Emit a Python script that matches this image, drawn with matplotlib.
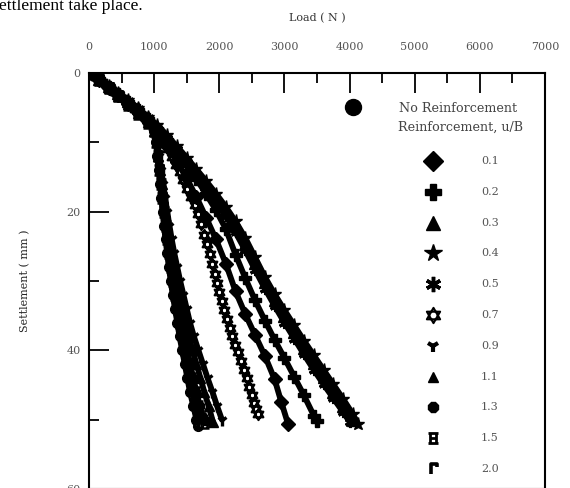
import matplotlib
matplotlib.use("Agg")
import matplotlib.pyplot as plt
from matplotlib.path import Path

# ---------------- data ----------------
legend_labels = ["0.1", "0.2", "0.3", "0.4", "0.5", "0.7", "0.9", "1.1", "1.3", "1.5", "2.0"]
x_ticks = [0, 1000, 2000, 3000, 4000, 5000, 6000, 7000]
y_ticks = [0, 20, 40, 60]

# No reinforcement
load_none = [0, 150, 300, 450, 600, 750, 900, 1000, 1030, 1050, 1070, 1090, 1110, 1130, 1150, 1175, 1200, 1225,
             1255, 1285, 1320, 1355, 1390, 1430, 1470, 1510, 1550, 1600, 1650, 1670]
settle_none = [0, 1.0, 2.1, 3.3, 4.6, 5.9, 7.2, 8.4, 10, 12, 14, 16, 18, 20, 22, 24, 26, 28,
               30, 32, 34, 36, 38, 40, 42, 44, 46, 48, 50, 50.9]

# u/B = 0.1
load_01 = [0, 150, 300, 450, 600, 750, 900, 1050, 1200, 1350, 1500, 1650, 1800, 1950, 2100, 2250, 2400, 2550,
           2700, 2850, 2950, 3055]
settle_01 = [0, 1.0, 2.1, 3.2, 4.4, 5.6, 6.9, 8.5, 10.6, 12.8, 15.2, 17.9, 20.9, 24.0, 27.5, 31.5, 34.8, 37.8,
             40.8, 44.2, 47.4, 50.6]

# u/B = 0.2
load_02 = [0, 150, 300, 450, 600, 750, 900, 1050, 1200, 1350, 1500, 1650, 1800, 1950, 2100, 2250, 2400, 2550,
           2700, 2850, 3000, 3150, 3300, 3450, 3500]
settle_02 = [0, 0.9, 2.0, 3.1, 4.2, 5.4, 6.7, 8.1, 9.7, 11.4, 13.3, 15.3, 17.5, 19.8, 22.5, 26.2, 29.6, 32.8,
             35.7, 38.5, 41.1, 43.8, 46.5, 49.4, 50.2]

# u/B = 0.3
load_03 = [0, 150, 300, 450, 600, 750, 900, 1050, 1200, 1350, 1500, 1650, 1800, 1950, 2100, 2250, 2400, 2550,
           2700, 2850, 3000, 3150, 3300, 3450, 3600, 3750, 3900, 4050]
settle_03 = [0, 0.9, 1.9, 2.9, 4.0, 5.1, 6.4, 7.7, 9.2, 10.8, 12.5, 14.2, 16.0, 17.9, 19.9, 22.1, 24.6, 27.4,
             30.2, 32.7, 35.0, 37.3, 39.6, 41.8, 43.9, 46.0, 48.0, 50.0]

# u/B = 0.4
load_04 = [0, 150, 300, 450, 600, 750, 900, 1050, 1200, 1350, 1500, 1650, 1800, 1950, 2100, 2250, 2400, 2550,
           2700, 2850, 3000, 3150, 3300, 3450, 3600, 3750, 3900, 4050, 4130]
settle_04 = [0, 0.9, 1.9, 2.9, 3.9, 5.0, 6.3, 7.5, 9.0, 10.6, 12.2, 13.9, 15.6, 17.4, 19.3, 21.4, 23.8, 26.6,
             29.4, 31.9, 34.2, 36.4, 38.6, 40.7, 42.8, 44.9, 47.0, 49.2, 50.6]

# u/B = 0.5
load_05 = [0, 150, 300, 450, 600, 750, 900, 1050, 1200, 1350, 1500, 1650, 1800, 1950, 2100, 2250, 2400, 2550,
           2700, 2850, 3000, 3150, 3300, 3450, 3600, 3750, 3900, 4000]
settle_05 = [0, 0.9, 2.0, 3.0, 4.1, 5.2, 6.5, 7.9, 9.4, 11.0, 12.8, 14.6, 16.5, 18.5, 20.6, 23.0, 25.6, 28.4,
             31.1, 33.6, 36.0, 38.3, 40.6, 42.8, 44.9, 46.9, 48.9, 50.3]

# u/B = 0.7
load_07 = [0, 100, 200, 300, 400, 500, 600, 700, 800, 900, 1000, 1080, 1150, 1210, 1270, 1330, 1390, 1450,
           1510, 1570, 1620, 1670, 1720, 1770, 1810, 1850, 1890, 1930, 1965, 2000, 2040, 2080, 2120, 2160,
           2200, 2245, 2290, 2335, 2380, 2420, 2460, 2500, 2530, 2560, 2594]
settle_07 = [0, 0.6, 1.3, 2.0, 2.8, 3.6, 4.4, 5.2, 6.0, 6.9, 7.8, 8.8, 9.9, 11.0, 12.1, 13.2, 14.3, 15.5,
             16.7, 17.9, 19.1, 20.4, 21.8, 23.3, 24.7, 26.1, 27.5, 29.0, 30.3, 31.6, 32.9, 34.2, 35.5, 36.8,
             38.0, 39.2, 40.3, 41.5, 42.8, 44.0, 45.3, 46.5, 47.6, 48.4, 49.2]

# u/B = 0.9
load_09 = [0, 150, 300, 450, 600, 750, 900, 1000, 1050, 1080, 1110, 1140, 1170, 1200, 1235, 1270, 1310, 1355,
           1400, 1450, 1500, 1550, 1610, 1680, 1750, 1820, 1895, 1965, 2040]
settle_09 = [0, 1.0, 2.1, 3.3, 4.5, 5.8, 7.1, 8.3, 10, 12, 14, 16, 18, 20, 22, 24, 26, 28,
             30, 32, 34, 36, 38, 40, 42, 44, 46, 48, 50]

# u/B = 1.1
load_11 = [0, 150, 300, 450, 600, 750, 900, 1000, 1040, 1065, 1090, 1115, 1140, 1165, 1195, 1225, 1260, 1300,
           1340, 1385, 1430, 1480, 1530, 1590, 1650, 1710, 1770, 1835, 1905]
settle_11 = [0, 1.0, 2.1, 3.3, 4.5, 5.8, 7.1, 8.3, 10, 12, 14, 16, 18, 20, 22, 24, 26, 28,
             30, 32, 34, 36, 38, 40, 42, 44, 46, 48, 50.4]

# u/B = 1.3
load_13 = [0, 150, 300, 450, 600, 750, 900, 1000, 1035, 1060, 1085, 1110, 1135, 1160, 1185, 1215, 1245, 1275,
           1310, 1345, 1385, 1425, 1465, 1510, 1555, 1600, 1650, 1700, 1750, 1800]
settle_13 = [0, 1.0, 2.1, 3.3, 4.5, 5.8, 7.1, 8.3, 10, 12, 14, 16, 18, 20, 22, 24, 26, 28,
             30, 32, 34, 36, 38, 40, 42, 44, 46, 48, 49.6, 50.2]

# u/B = 1.5
load_15 = [0, 150, 300, 450, 600, 750, 900, 1000, 1030, 1055, 1080, 1100, 1125, 1150, 1175, 1200, 1230, 1260,
           1290, 1325, 1360, 1400, 1440, 1480, 1525, 1570, 1620, 1670, 1720, 1760]
settle_15 = [0, 1.0, 2.1, 3.3, 4.6, 5.9, 7.2, 8.4, 10, 12, 14, 16, 18, 20, 22, 24, 26, 28,
             30, 32, 34, 36, 38, 40, 42, 44, 46, 48, 49.8, 50.5]

# u/B = 2.0
load_20 = [0, 150, 300, 450, 600, 750, 900, 1000, 1030, 1050, 1075, 1095, 1115, 1140, 1160, 1185, 1210, 1240,
           1270, 1300, 1335, 1370, 1410, 1450, 1490, 1535, 1580, 1630, 1680, 1710]
settle_20 = [0, 1.0, 2.1, 3.3, 4.6, 5.9, 7.2, 8.4, 10, 12, 14, 16, 18, 20, 22, 24, 26, 28,
             30, 32, 34, 36, 38, 40, 42, 44, 46, 48, 50, 50.8]

# ---------------- marker shapes ----------------
hexagram = Path(
    [(0, 1), (-0.866, -0.5), (0.866, -0.5), (0, 1), (0, -1), (0.866, 0.5), (-0.866, 0.5), (0, -1)],
    [Path.MOVETO, Path.LINETO, Path.LINETO, Path.CLOSEPOLY, Path.MOVETO, Path.LINETO, Path.LINETO, Path.CLOSEPOLY])
ibeam = Path(
    [(-1, 1), (1, 1), (-1, -1), (1, -1), (-0.6, 1), (-0.6, -1), (0.6, 1), (0.6, -1), (-0.6, 0), (0.6, 0)],
    [Path.MOVETO, Path.LINETO, Path.MOVETO, Path.LINETO, Path.MOVETO, Path.LINETO, Path.MOVETO, Path.LINETO,
     Path.MOVETO, Path.LINETO])
gamma = Path(
    [(-0.5, -1), (-0.5, 1), (0.8, 1), (0.8, 0.5)],
    [Path.MOVETO, Path.LINETO, Path.LINETO, Path.LINETO])
asterisk = (6, 2, 0)

# ---------------- figure ----------------
W, H = 570, 488
fig = plt.figure(figsize=(W / 100, H / 100), dpi=100)
L, R, T, B = 89, 545, 73, 489
ax = fig.add_axes([L / W, (H - B) / H, (R - L) / W, (B - T) / H])

ink = "black"
lw_curve = 4.2

def curve(x, y, marker, ms=6.5, filled=True, line=True, mew=1.0):
    ax.plot(x, y, color=ink, lw=lw_curve if line else 0, ls="-" if line else "none",
            marker=marker, ms=ms, mfc=ink if filled else "white", mec=ink, mew=mew,
            solid_capstyle="round", solid_joinstyle="round", clip_on=True)

curve(load_none, settle_none, "o", ms=7)
curve(load_20, settle_20, gamma, ms=7, filled=False, mew=2.2)
curve(load_15, settle_15, ibeam, ms=7, filled=False, mew=1.8)
curve(load_13, settle_13, "8", ms=7)
curve(load_11, settle_11, "^", ms=6.5)
curve(load_09, settle_09, "1", ms=8, filled=False, mew=2.4, line=True)
curve(load_07, settle_07, hexagram, ms=8, filled=False, line=False, mew=1.6)
curve(load_01, settle_01, "D", ms=7)
curve(load_02, settle_02, "P", ms=8)
curve(load_05, settle_05, asterisk, ms=8, filled=False, mew=2.2)
curve(load_03, settle_03, "^", ms=8)
curve(load_04, settle_04, "*", ms=9.5)

ax.set_xlim(0, 7000)
ax.set_ylim(60, 0)

tick_font = dict(family="DejaVu Serif", size=8, color="#555555")
ax.xaxis.tick_top()
ax.set_xticks(x_ticks)
ax.set_xticks([v + 500 for v in x_ticks[:-1]], minor=True)
ax.set_xticklabels([str(v) for v in x_ticks], fontdict=tick_font)
ax.set_yticks(y_ticks)
ax.set_yticks([10, 30, 50], minor=True)
ax.set_yticklabels([str(v) for v in y_ticks], fontdict=tick_font)
ax.tick_params(which="major", direction="in", length=14.5, width=1.3, color="black")
ax.tick_params(which="minor", direction="in", length=7.2, width=1.3, color="black")
ax.tick_params(axis="x", which="both", top=True, bottom=False, pad=15)
ax.tick_params(axis="y", which="both", left=True, right=False, pad=6)
for s in ax.spines.values():
    s.set_linewidth(1.5)

label_font = dict(family="DejaVu Serif", size=8, color="#333333")
ax.xaxis.set_label_position("top")
ax.set_xlabel("Load ( N )", fontdict=label_font)
ax.xaxis.set_label_coords(0.5, (B - 18) / (B - T))
ax.xaxis.label.set_va("center")
ax.set_ylabel("Settlement ( mm )", fontdict=dict(family="DejaVu Serif", size=8, color="#222222"))
ax.yaxis.set_label_coords((25 - L) / (R - L), 0.5)
ax.yaxis.label.set_va("center")

# ---------------- legend (drawn by hand, as in the original) ----------------
def fx(px):
    return (px - L) / (R - L)

def fy(py):
    return (B - py) / (B - T)

leg_font = dict(family="DejaVu Serif", size=9.2, color="#444444")
ax.plot([fx(353)], [fy(107)], marker="o", ms=11.5, color=ink, transform=ax.transAxes, clip_on=False)
ax.text(fx(399), fy(108), "No Reinforcement", transform=ax.transAxes, va="center", ha="left", fontdict=leg_font)
ax.text(fx(398), fy(127), "Reinforcement, u/B", transform=ax.transAxes, va="center", ha="left", fontdict=leg_font)

leg_markers = [("D", 10, True, 1), ("P", 11, True, 1), ("^", 10, True, 1), ("*", 13, True, 1),
               (asterisk, 11, False, 2.5), (hexagram, 11, False, 1.5), ("1", 9, False, 3.0),
               ("^", 6.5, True, 1), ("8", 7.5, True, 1), (ibeam, 7, False, 2.0), (gamma, 7, False, 2.6)]
row0, step = 161, 30.8
for i, (lab, (m, ms, filled, mew)) in enumerate(zip(legend_labels, leg_markers)):
    py = row0 + i * step
    ax.plot([fx(433)], [fy(py)], marker=m, ms=ms, color=ink, mfc=ink if filled else "white", mec=ink,
            mew=mew, ls="none", transform=ax.transAxes, clip_on=False)
    ax.text(fx(481), fy(py), lab, transform=ax.transAxes, va="center", ha="left",
            fontdict=dict(family="DejaVu Serif", size=8, color="#555555"))

# fragment of the surrounding document text
fig.text(-0.002, 1 - 9.5 / H, "ettlement take place.", family="Liberation Serif", size=12.5,
         color="black", va="baseline", ha="left")

fig.savefig("out.png", dpi=100)
